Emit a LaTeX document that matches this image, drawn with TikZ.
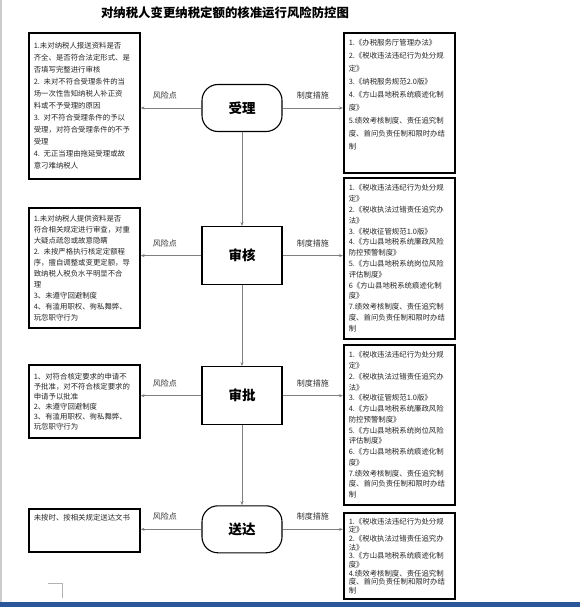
\documentclass[tikz,border=0pt]{standalone}
\usepackage{fontspec}
\setmainfont{Noto Sans CJK SC}
\usetikzlibrary{arrows.meta, positioning}

\definecolor{wordblue}{RGB}{43,87,154}
\definecolor{linegray}{RGB}{128,128,128}

\begin{document}
\begin{tikzpicture}[
  x=1pt, y=-1pt,
  >={Stealth[length=4pt,width=3pt]},
  node distance=5mm,
  stage/.style={draw, line width=1.1pt, minimum width=80pt, font=\fontsize{13.5}{16}\selectfont\bfseries},
  terminal/.style={stage, rounded corners=16pt, minimum height=47pt},
  process/.style={stage, minimum height=58pt},
  notebox/.style={draw, line width=1.6pt, anchor=north west, text width=101pt, align=left,
    inner xsep=5pt, inner ysep=5pt, text=black!85},
  flow/.style={->, draw=linegray, line width=0.8pt},
  tag/.style={font=\fontsize{8}{10}\selectfont, text=black!80, above=5pt},
]
\useasboundingbox (0,0) rectangle (580,607);

% page edges
\fill[gray!40] (0,0) rectangle (1.5,602);
\fill[wordblue] (0,602) rectangle (580,607);
\draw[gray!60, line width=0.6pt] (48,583) -- (62,583) -- (62,598);

\node[font=\fontsize{12.4}{15}\selectfont\bfseries] (title) at (225,13) {对纳税人变更纳税定额的核准运行风险防控图};

% main flow
\node[terminal] (accept) at (242,108) {受理};
\node[process] (review) [below=94pt of accept] {审核};
\node[process] (approve) [below=81pt of review] {审批};
\node[terminal] (deliver) [below=80pt of approve] {送达};

% risk points
\node[notebox, minimum height=146pt, font=\fontsize{7.4}{12}\selectfont] (risk1) at (28,32) {%
1.未对纳税人报送资料是否\\齐全、是否符合法定形式、是\\否填写完整进行审核\\
2. 未对不符合受理条件的当\\场一次性告知纳税人补正资\\料或不予受理的原因\\
3. 对不符合受理条件的予以\\受理，对符合受理条件的不予\\受理\\
4. 无正当理由拖延受理或故\\意刁难纳税人};
\node[notebox, minimum height=120pt, font=\fontsize{7.4}{11}\selectfont] (risk2) at (28,207) {%
1.未对纳税人提供资料是否\\符合相关规定进行审查，对重\\大疑点疏忽或故意隐瞒\\
2. 未按严格执行核定定额程\\序，擅自调整或变更定额，导\\致纳税人税负水平明显不合\\理\\
3、未遵守回避制度\\
4、有滥用职权、徇私舞弊、\\玩忽职守行为};
\node[notebox, minimum height=73pt, font=\fontsize{7.4}{10}\selectfont] (risk3) at (28,364) {%
1、对符合核定要求的申请不\\予批准，对不符合核定要求的\\申请予以批准\\
2、未遵守回避制度\\
3、有滥用职权、徇私舞弊、\\玩忽职守行为};
\node[notebox, text depth=27pt, font=\fontsize{7.4}{10}\selectfont] (risk4) at (28,508) {%
未按时、按相关规定送达文书};

% measures
\node[notebox, inner ysep=6pt, text depth=122pt, font=\fontsize{7.4}{13}\selectfont] (measure1) at (343,32) {%
1.《办税服务厅管理办法》\\
2.《税收违法违纪行为处分规\\定》\\
3.《纳税服务规范2.0版》\\
4.《方山县地税系统痕迹化制\\度》\\
5.绩效考核制度、责任追究制\\度、首问负责任制和限时办结\\制};
\node[notebox, minimum height=161pt, font=\fontsize{7.4}{10.8}\selectfont] (measure2) at (343,177) {%
1.《税收违法违纪行为处分规\\定》\\
2.《税收执法过错责任追究办\\法》\\
3.《税收征管规范1.0版》\\
4.《方山县地税系统廉政风险\\防控预警制度》\\
5.《方山县地税系统岗位风险\\评估制度》\\
6《方山县地税系统痕迹化制\\度》\\
7.绩效考核制度、责任追究制\\度、首问负责任制和限时办结\\制};
\node[notebox, minimum height=160pt, font=\fontsize{7.4}{10.75}\selectfont] (measure3) at (343,344) {%
1.《税收违法违纪行为处分规\\定》\\
2.《税收执法过错责任追究办\\法》\\
3.《税收征管规范1.0版》\\
4.《方山县地税系统廉政风险\\防控预警制度》\\
5.《方山县地税系统岗位风险\\评估制度》\\
6.《方山县地税系统痕迹化制\\度》\\
7.绩效考核制度、责任追究制\\度、首问负责任制和限时办结\\制};
\node[notebox, minimum height=86pt, font=\fontsize{7.4}{8.7}\selectfont] (measure4) at (343,512) {%
1.《税收违法违纪行为处分规\\定》\\
2.《税收执法过错责任追究办\\法》\\
3.《方山县地税系统痕迹化制\\度》\\
4.绩效考核制度、责任追究制\\度、首问负责任制和限时办结\\制};

\draw[flow] (accept) -- (review);
\draw[flow] (review) -- (approve);
\draw[flow] (approve) -- (deliver);

\draw[flow] (accept) -- (risk1.east |- accept) node[tag, pos=0.6] {风险点};
\draw[flow] (review) -- (risk2.east |- review) node[tag, pos=0.6] {风险点};
\draw[flow] (approve) -- (risk3.east |- approve) node[tag, pos=0.6] {风险点};
\draw[flow] (deliver) -- (risk4.east |- deliver) node[tag, pos=0.6] {风险点};

\draw[flow] (accept) -- (measure1.west |- accept) node[tag, midway] {制度措施};
\draw[flow] (review) -- (measure2.west |- review) node[tag, midway] {制度措施};
\draw[flow] (approve) -- (measure3.west |- approve) node[tag, midway] {制度措施};
\draw[flow] (deliver) -- (measure4.west |- deliver) node[tag, midway] {制度措施};
\end{tikzpicture}
\end{document}
